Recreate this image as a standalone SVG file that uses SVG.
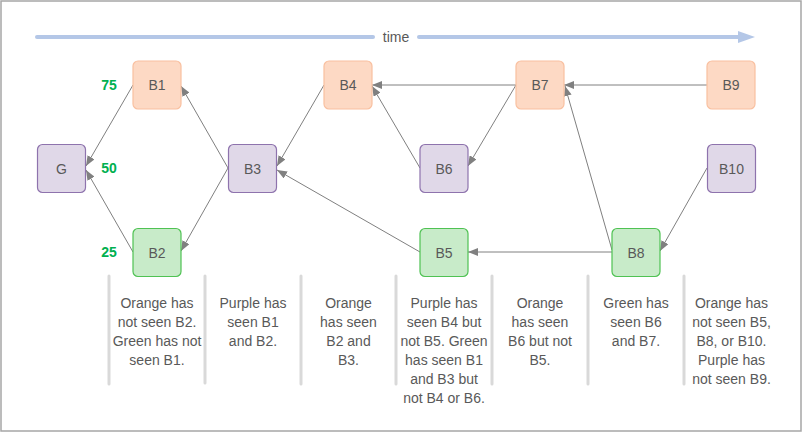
<svg xmlns="http://www.w3.org/2000/svg" width="805" height="433" viewBox="0 0 805 433">
<style>
.bg{fill:#fff;stroke:#a6a6a6;stroke-width:1.5}
.n rect{rx:5;ry:5;stroke-width:1.2}
.o rect{fill:#fdd9c4;stroke:#f9c0a0}
.p rect{fill:#e0d8e8;stroke:#8e73ad}
.g rect{fill:#c8ebc9;stroke:#4fc253}
.n text{font-family:"Liberation Sans",Arial,sans-serif;font-size:14px;fill:#595959;text-anchor:middle;dominant-baseline:central}
.lvl{font-family:"Liberation Sans",Arial,sans-serif;font-size:14px;font-weight:bold;fill:#00b050;text-anchor:middle;dominant-baseline:central}
.cap{font-family:"Liberation Sans",Arial,sans-serif;font-size:14px;fill:#595959;text-anchor:middle}
.sep{stroke:#d9d9d9;stroke-width:3;stroke-linecap:round}
.e{stroke:#808080;stroke-width:1;fill:none;marker-end:url(#ah)}
</style>
<defs>
<marker id="ah" markerUnits="userSpaceOnUse" markerWidth="10" markerHeight="8" refX="10" refY="4" orient="auto">
<path d="M0,0 L10,4 L0,8 z" fill="#808080"/>
</marker>
</defs>
<rect class="bg" x="1" y="1" width="800" height="430"/>
<g id="timeline">
<line x1="37" y1="37" x2="373" y2="37" stroke="#b4c7e7" stroke-width="4" stroke-linecap="round"/>
<line x1="419" y1="37" x2="740" y2="37" stroke="#b4c7e7" stroke-width="4" stroke-linecap="round"/>
<path d="M738,31 L755,37 L738,43 z" fill="#b4c7e7"/>
<text x="396" y="37" class="cap" dominant-baseline="central">time</text>
</g>
<g id="levels">
<text class="lvl" x="109" y="85">75</text>
<text class="lvl" x="109" y="168">50</text>
<text class="lvl" x="109" y="252">25</text>
</g>
<g id="connectors">
<path class="e" d="M133,85 L86,166"/>
<path class="e" d="M133,252 L86,170"/>
<path class="e" d="M228,168 L181,86"/>
<path class="e" d="M228,168 L181,251"/>
<path class="e" d="M324,85 L277,166"/>
<path class="e" d="M420,252 L277,170"/>
<path class="e" d="M420,168 L372,86"/>
<path class="e" d="M516,85 L372,85"/>
<path class="e" d="M516,85 L468,166"/>
<path class="e" d="M707,85 L564,85"/>
<path class="e" d="M612,250 L565,86"/>
<path class="e" d="M612,252 L468,252"/>
<path class="e" d="M707,168 L660,251"/>
</g>
<g id="G" class="n p"><rect x="37.5" y="144.5" width="48" height="48"/><text x="61.5" y="168.5">G</text></g>
<g id="B1" class="n o"><rect x="133" y="61" width="48" height="48"/><text x="157" y="85">B1</text></g>
<g id="B2" class="n g"><rect x="133" y="228.5" width="48" height="48"/><text x="157" y="252.5">B2</text></g>
<g id="B3" class="n p"><rect x="228.5" y="144.5" width="48" height="48"/><text x="252.5" y="168.5">B3</text></g>
<g id="B4" class="n o"><rect x="324" y="61" width="48" height="48"/><text x="348" y="85">B4</text></g>
<g id="B5" class="n g"><rect x="420" y="228.5" width="48" height="48"/><text x="444" y="252.5">B5</text></g>
<g id="B6" class="n p"><rect x="420" y="144.5" width="48" height="48"/><text x="444" y="168.5">B6</text></g>
<g id="B7" class="n o"><rect x="516" y="61" width="48" height="48"/><text x="540" y="85">B7</text></g>
<g id="B8" class="n g"><rect x="612" y="228.5" width="48" height="48"/><text x="636" y="252.5">B8</text></g>
<g id="B9" class="n o"><rect x="707" y="61" width="48" height="48"/><text x="731" y="85">B9</text></g>
<g id="B10" class="n p"><rect x="707.5" y="144.5" width="48" height="48"/><text x="731.5" y="168.5">B10</text></g>
<g id="separators">
<line class="sep" x1="109" y1="276" x2="109" y2="384"/>
<line class="sep" x1="205" y1="276" x2="205" y2="383"/>
<line class="sep" x1="301" y1="276" x2="301" y2="384"/>
<line class="sep" x1="396" y1="276" x2="396" y2="384"/>
<line class="sep" x1="492" y1="276" x2="492" y2="384"/>
<line class="sep" x1="588" y1="276" x2="588" y2="384"/>
<line class="sep" x1="684" y1="276" x2="684" y2="384"/>
</g>
<g id="captions">
<text class="cap" x="157" y="308">Orange has</text>
<text class="cap" x="157" y="327">not seen B2.</text>
<text class="cap" x="157" y="346">Green has not</text>
<text class="cap" x="157" y="365">seen B1.</text>
<text class="cap" x="253" y="308">Purple has</text>
<text class="cap" x="253" y="327">seen B1</text>
<text class="cap" x="253" y="346">and B2.</text>
<text class="cap" x="348.5" y="308">Orange</text>
<text class="cap" x="348.5" y="327">has seen</text>
<text class="cap" x="348.5" y="346">B2 and</text>
<text class="cap" x="348.5" y="365">B3.</text>
<text class="cap" x="444" y="308">Purple has</text>
<text class="cap" x="444" y="327">seen B4 but</text>
<text class="cap" x="444" y="346">not B5. Green</text>
<text class="cap" x="444" y="365">has seen B1</text>
<text class="cap" x="444" y="384">and B3 but</text>
<text class="cap" x="444" y="403">not B4 or B6.</text>
<text class="cap" x="540" y="308">Orange</text>
<text class="cap" x="540" y="327">has seen</text>
<text class="cap" x="540" y="346">B6 but not</text>
<text class="cap" x="540" y="365">B5.</text>
<text class="cap" x="636" y="308">Green has</text>
<text class="cap" x="636" y="327">seen B6</text>
<text class="cap" x="636" y="346">and B7.</text>
<text class="cap" x="731.5" y="308">Orange has</text>
<text class="cap" x="731.5" y="327">not seen B5,</text>
<text class="cap" x="731.5" y="346">B8, or B10.</text>
<text class="cap" x="731.5" y="365">Purple has</text>
<text class="cap" x="731.5" y="384">not seen B9.</text>
</g>
</svg>
